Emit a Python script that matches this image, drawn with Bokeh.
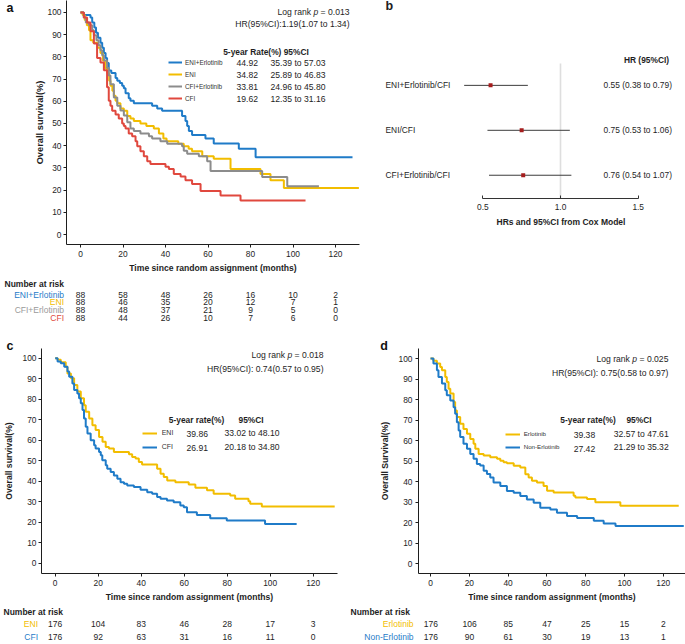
import math
from bokeh.plotting import figure
from bokeh.models import (Range1d, Label, LabelSet, ColumnDataSource, Legend, LegendItem,
                          NumeralTickFormatter, FixedTicker, LinearAxis, Title)
from bokeh.core.properties import value
from bokeh.layouts import column, row
from bokeh.embed import file_html
from bokeh.resources import INLINE

# ---------------- data ----------------
month_ticks = [0, 20, 40, 60, 80, 100, 120]
surv_ticks = [0, 10, 20, 30, 40, 50, 60, 70, 80, 90, 100]

# panel a : four arms
a_groups = ["ENI+Erlotinib", "ENI", "CFI+Erlotinib", "CFI"]
a_eni_erl_t = [0, 1.5, 4.7, 5.5, 6.5, 7.3, 8.2, 9.4, 10.2, 11.0, 11.8, 12.5, 13.3, 14.5, 16.5, 17.3,
               18.5, 19.6, 20.4, 21.2, 22.7, 23.5, 25.1, 33.7, 36.1, 38.4, 47.8, 49.4, 50.2, 51.0,
               52.5, 58.8, 62.7, 74.5, 82.4]
a_eni_erl_s = [100, 98.9, 97.7, 95.5, 93.2, 90.9, 88.6, 86.4, 84.1, 81.8, 79.5, 77.3, 73.9, 72.7,
               70.5, 69.3, 68.2, 67.0, 65.9, 63.6, 61.4, 60.2, 59.1, 58.0, 56.8, 55.7, 53.4, 51.1,
               48.9, 46.6, 44.8, 43.2, 41.0, 38.6, 34.8]
a_eni_erl_end = 128.0
a_eni_t = [0, 1.0, 2.0, 3.0, 4.0, 4.7, 6.0, 8.0, 9.4, 10.5, 11.5, 12.5, 13.5, 14.1, 15.0, 15.7, 16.5,
           17.3, 18.8, 20.4, 22.0, 23.5, 25.1, 28.2, 31.0, 34.5, 36.9, 39.0, 40.5, 46.0, 48.6, 50.9,
           52.5, 57.3, 62.7, 70.6, 84.7, 89.4, 95.7]
a_eni_s = [100, 98.9, 96.6, 94.3, 92.0, 87.5, 86.4, 84.1, 81.8, 78.4, 75.0, 72.7, 69.3, 67.0, 64.8,
           62.5, 60.2, 59.1, 56.8, 55.7, 53.4, 52.3, 51.1, 50.0, 48.9, 47.7, 45.5, 43.2, 42.0, 40.9,
           39.8, 38.6, 37.5, 35.2, 34.1, 29.5, 27.3, 24.4, 21.0]
a_eni_end = 131.0
a_cfi_erl_t = [0, 1.5, 2.5, 4.0, 5.5, 6.3, 7.5, 8.5, 9.4, 10.2, 11.0, 12.5, 13.3, 14.1, 15.7, 17.3,
               18.8, 20.4, 22.0, 23.5, 25.1, 28.2, 32.2, 33.7, 37.6, 40.8, 47.8, 48.6, 50.2, 55.7,
               59.6, 61.2, 85.5, 97.3]
a_cfi_erl_s = [100, 97.7, 95.5, 94.3, 92.0, 89.8, 87.5, 85.2, 83.0, 80.7, 78.4, 75.0, 71.6, 67.7,
               61.7, 58.0, 55.8, 53.6, 50.6, 47.7, 46.6, 45.5, 44.3, 43.2, 42.0, 40.9, 39.8, 37.7,
               36.4, 35.2, 33.0, 28.6, 25.9, 21.7]
a_cfi_erl_end = 112.2
a_cfi_t = [0, 1.6, 3.1, 4.7, 6.3, 7.8, 9.4, 11.0, 12.5, 13.3, 14.1, 14.9, 16.5, 18.0, 19.6, 20.4,
           21.2, 22.7, 24.3, 25.9, 26.7, 28.2, 29.8, 31.4, 32.9, 40.0, 41.6, 43.9, 47.1, 49.4, 52.5,
           56.5, 65.9, 75.3]
a_cfi_s = [100, 97.7, 95.5, 91.5, 86.0, 79.5, 77.5, 74.0, 66.3, 60.2, 58.0, 55.7, 54.0, 52.3, 50.0,
           48.9, 47.7, 45.5, 44.3, 42.0, 39.8, 37.5, 35.2, 33.0, 31.8, 30.5, 29.5, 27.3, 26.1, 24.4,
           22.7, 19.6, 17.6, 15.3]
a_cfi_end = 105.9
a_rate = [44.92, 34.82, 33.81, 19.62]
a_ci_lo = [35.39, 25.89, 24.96, 12.35]
a_ci_hi = [57.03, 46.83, 45.80, 31.16]
a_risk = [[88, 58, 48, 26, 16, 10, 2],
          [88, 46, 35, 20, 12, 7, 1],
          [88, 48, 37, 21, 9, 5, 0],
          [88, 44, 26, 10, 7, 6, 0]]
a_p = "0.013"
a_hr = [1.19, 1.07, 1.34]

# panel b : forest
b_labels = ["ENI+Erlotinib/CFI", "ENI/CFI", "CFI+Erlotinib/CFI"]
b_hr = [0.55, 0.75, 0.76]
b_lo = [0.38, 0.53, 0.54]
b_hi = [0.79, 1.06, 1.07]
b_ticks = [0.5, 1.0, 1.5]
b_null = 1.0

# panel c : ENI vs CFI
c_groups = ["ENI", "CFI"]
c_eni_t = [0, 1.1, 2.6, 4.9, 5.7, 7.3, 8.8, 10.3, 11.9, 13.4, 14.2, 15.8, 17.3, 18.8, 20.4, 22.0,
           23.5, 25.0, 27.3, 34.3, 35.8, 37.4, 38.9, 40.4, 47.4, 49.0, 50.5, 52.1, 55.9, 62.1, 65.2,
           70.6, 73.7, 81.4, 83.7, 89.9, 90.7, 96.1]
c_eni_s = [100, 99.2, 98.0, 95.9, 92.6, 90.2, 86.9, 83.7, 80.4, 77.1, 73.9, 70.6, 67.3, 64.9, 61.6,
           59.2, 56.7, 55.9, 54.2, 53.1, 51.8, 51.0, 49.3, 48.1, 46.1, 43.6, 42.0, 40.3, 39.5, 38.4,
           36.8, 35.5, 33.8, 33.0, 31.4, 30.2, 28.9, 27.6]
c_eni_end = 130.0
c_cfi_t = [0, 1.1, 2.6, 4.2, 5.7, 6.5, 8.0, 8.8, 10.3, 11.1, 11.9, 12.7, 13.4, 14.2, 15.0, 16.5,
           18.1, 18.8, 20.4, 21.2, 21.9, 23.5, 24.2, 25.8, 27.3, 28.9, 30.4, 32.0, 33.5, 36.6, 39.7,
           42.8, 45.1, 47.4, 49.0, 52.0, 55.1, 58.2, 59.8, 61.3, 65.9, 72.1, 79.8, 97.6]
c_cfi_s = [100, 98.4, 97.5, 95.9, 93.5, 91.0, 87.7, 84.5, 82.8, 80.4, 78.0, 74.7, 70.6, 66.5, 63.2,
           60.0, 57.5, 55.9, 54.2, 52.6, 50.2, 47.7, 46.1, 44.4, 42.8, 41.2, 39.5, 38.7, 37.9, 37.1,
           35.8, 34.6, 33.8, 32.2, 31.4, 30.6, 29.7, 28.1, 27.3, 24.8, 23.5, 21.9, 20.8, 19.1]
c_cfi_end = 112.3
c_rate = [39.86, 26.91]
c_ci_lo = [33.02, 20.18]
c_ci_hi = [48.10, 34.80]
c_risk = [[176, 104, 83, 46, 28, 17, 3],
          [176, 92, 63, 31, 16, 11, 0]]
c_p = "0.018"
c_hr = [0.74, 0.57, 0.95]

# panel d : Erlotinib vs Non-Erlotinib
d_groups = ["Erlotinib", "Non-Erlotinib"]
d_erl_t = [0, 1.5, 3.3, 5.0, 5.9, 7.6, 8.4, 9.3, 10.2, 11.9, 12.7, 13.6, 15.3, 17.0, 18.8, 20.5,
           22.2, 23.1, 24.8, 27.4, 30.8, 34.3, 36.0, 37.7, 39.4, 42.9, 46.3, 48.9, 50.6, 52.3, 54.9,
           58.3, 60.1, 63.5, 73.8, 74.7, 80.7, 85.0, 97.9]
d_erl_s = [100, 98.9, 97.6, 95.9, 94.3, 91.0, 88.6, 85.3, 82.9, 78.8, 74.7, 71.5, 68.2, 65.7, 63.3,
           60.8, 58.4, 56.0, 53.5, 52.7, 51.9, 51.1, 50.2, 49.4, 48.9, 47.7, 46.9, 43.6, 42.0, 40.4,
           39.6, 37.9, 35.6, 34.7, 33.1, 32.3, 31.5, 29.9, 28.2]
d_erl_end = 128.0
d_non_t = [0, 1.5, 3.3, 4.1, 5.9, 7.6, 8.4, 10.2, 11.9, 12.7, 13.6, 14.5, 15.3, 17.0, 18.8, 20.5,
           22.2, 23.9, 25.6, 27.4, 29.1, 30.8, 32.5, 36.0, 39.4, 42.9, 46.3, 49.7, 53.2, 56.6, 61.8,
           65.2, 70.4, 75.6, 84.2, 89.3, 95.4]
d_non_s = [100, 97.6, 94.3, 91.0, 87.8, 84.5, 82.1, 79.6, 76.3, 73.1, 69.0, 64.9, 61.7, 58.4, 56.0,
           53.5, 51.1, 48.6, 47.8, 45.3, 43.7, 42.0, 39.6, 37.9, 35.4, 34.6, 33.0, 31.3, 29.7, 27.2,
           26.4, 24.8, 23.2, 22.3, 20.9, 19.6, 18.4]
d_non_end = 130.6
d_rate = [39.38, 27.42]
d_ci_lo = [32.57, 21.29]
d_ci_hi = [47.61, 35.32]
d_risk = [[176, 106, 85, 47, 25, 15, 2],
          [176, 90, 61, 30, 19, 13, 1]]
d_p = "0.025"
d_hr = [0.75, 0.58, 0.97]

# ---------------- styling ----------------
FONT = "Liberation Sans"
INK = "#1e1e1e"
BLUE = "#1f7bc8"
YELLOW = "#f2bd00"
GREY = "#8c8c8c"
GREY_TXT = "#9a9a9a"
RED = "#e0483e"

AW = {' ': .278, '.': .278, '=': .584, 'L': .556, 'o': .556, 'g': .556, 'r': .333, 'a': .556,
      'n': .556, 'k': .5, 'p': .556}


def tw(s, size):
    return sum(AW.get(c, 0.556) for c in s) * size


def make_fig(box, frame, xr, yr, axes=True):
    bx0, by0, bx1, by1 = box
    fx0, fy0, fx1, fy1 = frame
    W = round(bx1) - round(bx0)
    H = round(by1) - round(by0)
    bl = round(fx0 - bx0)
    br = W - round(fx1 - bx0)
    bt = round(fy0 - by0)
    bb = H - round(fy1 - by0)
    kw = {} if axes else dict(x_axis_location=None, y_axis_location=None)
    p = figure(width=W, height=H, x_range=Range1d(*xr), y_range=Range1d(*yr),
               output_backend="svg", toolbar_location=None,
               min_border_left=bl, min_border_right=br, min_border_top=bt, min_border_bottom=bb, **kw)
    p.outline_line_color = None
    p.grid.visible = False
    p.background_fill_color = "white"
    p.border_fill_color = "white"

    def m(rx, ry):
        return (xr[0] + (rx - fx0) / (fx1 - fx0) * (xr[1] - xr[0]),
                yr[1] - (ry - fy0) / (fy1 - fy0) * (yr[1] - yr[0]))
    return p, m


def txt(p, m, rx, ry, text, size, align="left", style="normal", color=INK):
    x, y = m(rx, ry)
    p.add_layout(Label(x=x, y=y, text=text, text_font=FONT, text_font_size=f"{size:.2f}px",
                       text_font_style=style, text_align=align, text_baseline="middle",
                       text_color=color))


def km_axes(p, ylabel, ysize, ystandoff, tick_standoff):
    p.xaxis.ticker = FixedTicker(ticks=month_ticks)
    p.yaxis.ticker = FixedTicker(ticks=surv_ticks)
    for ax in (p.xaxis[0], p.yaxis[0]):
        ax.axis_line_color = INK
        ax.axis_line_width = 1
        ax.major_tick_line_color = INK
        ax.minor_tick_line_color = None
        ax.major_tick_in = 0
        ax.major_tick_out = 3
        ax.major_label_text_font = FONT
        ax.major_label_text_font_size = "8.4px"
        ax.major_label_text_color = INK
        ax.major_label_standoff = 3
    p.yaxis.major_label_standoff = tick_standoff
    p.xaxis.axis_label = "Time since random assignment (months)"
    p.yaxis.axis_label = ylabel
    for ax in (p.xaxis[0], p.yaxis[0]):
        ax.axis_label_text_font = FONT
        ax.axis_label_text_font_style = "bold"
        ax.axis_label_text_color = INK
    p.xaxis.axis_label_text_font_size = "8.6px"
    p.xaxis.axis_label_standoff = 3
    p.yaxis.axis_label_text_font_size = f"{ysize}px"
    p.yaxis.axis_label_standoff = ystandoff


def km_curve(p, t, s, end, color):
    return p.step(x=t + [end], y=s + [s[-1]], mode="after", line_color=color, line_width=2)


def logrank(p, m, right, y_p, y_hr, pval, hr_text, size):
    full = "Log rank p = " + pval
    x0 = right - tw(full, size)
    txt(p, m, x0, y_p, "Log rank", size)
    txt(p, m, x0 + tw("Log rank ", size), y_p, "p", size, style="italic")
    txt(p, m, x0 + tw("Log rank p ", size), y_p, "= " + pval, size)
    txt(p, m, right, y_hr, hr_text, size, align="right")


def add_legend(p, frame, renderers, names, glyph_left, first_y, pitch, lsize, standoff, gw):
    fx0, fy0, fx1, fy1 = frame
    ih = 10
    n = len(names)
    sp = round(pitch - ih)
    top = first_y - ih / 2
    bottom = top + n * ih + (n - 1) * sp
    items = [LegendItem(label=nm, renderers=[r]) for nm, r in zip(names, renderers)]
    leg = Legend(items=items, location=(glyph_left - fx0, fy1 - bottom),
                 orientation="vertical", glyph_width=gw, glyph_height=ih,
                 label_height=ih, label_width=10, spacing=sp, padding=0, margin=0,
                 label_standoff=standoff, border_line_color=None, background_fill_alpha=0,
                 label_text_font=FONT, label_text_font_size=f"{lsize:.1f}px",
                 label_text_color="#333333")
    p.add_layout(leg)


def risk_fig(box, zero_px, px_per_month, title_rx, title_ry, label_rx, row_rys, names, colors,
             counts, size):
    bx0, by0, bx1, by1 = box
    xr = ((bx0 - zero_px) / px_per_month, (bx1 - zero_px) / px_per_month)
    yr = (by1, by0)  # screen-like vertical positions
    p, m = make_fig(box, box, xr, yr, axes=False)
    txt(p, m, title_rx, title_ry, "Number at risk", size, style="bold")
    xs, ys, ts = [], [], []
    for nm, col, cnt, ry in zip(names, colors, counts, row_rys):
        txt(p, m, label_rx, ry, nm, size, align="right", color=col)
        yv = m(0, ry)[1]
        for t, n in zip(month_ticks, cnt):
            xs.append(t)
            ys.append(yv)
            ts.append(str(n))
    src = ColumnDataSource(dict(x=xs, y=ys, t=ts))
    p.add_layout(LabelSet(x="x", y="y", text="t", source=src, text_align="center",
                          text_baseline="middle", text_font=value(FONT),
                          text_font_size=f"{size:.2f}px", text_color=INK))
    return p


def hr_str(h, sep):
    return f"HR(95%CI):{sep}{h[0]:.2f}({h[1]:.2f} to {h[2]:.2f})"


# ---------------- panel a ----------------
A_box = (0, 0, 360, 276)
A_frame = (66, 0, 359, 244.3)
A_zero, A_k = 80.0, 2.125
A_xr = ((66 - A_zero) / A_k, (359 - A_zero) / A_k)
pa, ma = make_fig(A_box, A_frame, A_xr, (-4.5, 105.4))
km_axes(pa, "Overall survival(%)", 9.3, 0, 2)
ra = [km_curve(pa, a_eni_erl_t, a_eni_erl_s, a_eni_erl_end, BLUE),
      km_curve(pa, a_eni_t, a_eni_s, a_eni_end, YELLOW),
      km_curve(pa, a_cfi_erl_t, a_cfi_erl_s, a_cfi_erl_end, GREY),
      km_curve(pa, a_cfi_t, a_cfi_s, a_cfi_end, RED)]
letter_y = 102
letter_axis = LinearAxis(ticker=FixedTicker(ticks=[letter_y]),
                         major_label_overrides={letter_y: "a"},
                         axis_line_color=None, major_tick_line_color=None,
                         minor_tick_line_color=None, major_tick_in=0, major_tick_out=0,
                         major_label_standoff=18, major_label_text_font=FONT,
                         major_label_text_font_size="12.5px", major_label_text_font_style="bold",
                         major_label_text_color="#111111")
pa.add_layout(letter_axis, "left")
logrank(pa, ma, 349, 11.7, 24, a_p, hr_str(a_hr, ""), 8.6)
txt(pa, ma, 222.7, 51.7, "5-year Rate(%) 95%CI", 8.4, style="bold")
a_rows = [62.7, 74.8, 86.7, 98.4]
add_legend(pa, A_frame, ra, a_groups, 168, a_rows[0], 11.9, 6.4, 3, 14)
for ry, rt, lo, hi in zip(a_rows, a_rate, a_ci_lo, a_ci_hi):
    txt(pa, ma, 236, ry, f"{rt:.2f}", 8.6)
    txt(pa, ma, 270, ry, f"{lo:.2f} to {hi:.2f}", 8.6)
pa_r = risk_fig((0, 276, 360, 327), A_zero, A_k, 4, 283, 63.5, [294.3, 301.8, 309.5, 317.3],
                a_groups, [BLUE, YELLOW, GREY_TXT, RED], a_risk, 8.5)

# ---------------- panel b ----------------
B_box = (0, 0, 325, 327)
B_frame = (0, 0, 325, 198.3)
b_px_per = 155.4
b_x0px = 482.3 - 360
bxr = (0.5 + (0 - b_x0px) / b_px_per, 0.5 + (325 - b_x0px) / b_px_per)
byr = (1 - (198.3 - 175) / 45, 3 + 85 / 45)
pb, mb = make_fig(B_box, B_frame, bxr, byr)
b_rows = [len(b_labels) - i for i in range(len(b_labels))]
pb.segment(x0=[b_null], y0=[mb(0, 63)[1]], x1=[b_null], y1=[byr[0]], line_color="#dedede", line_width=1.6)
pb.segment(x0=b_lo, y0=b_rows, x1=b_hi, y1=b_rows, line_color="#3c3c3c", line_width=1)
pb.scatter(x=b_hr, y=b_rows, marker="square", size=4, fill_color="#a51d1d", line_color=None)
ax = pb.xaxis[0]
ax.ticker = FixedTicker(ticks=b_ticks)
ax.formatter = NumeralTickFormatter(format="0.0")
ax.bounds = (b_ticks[0], b_ticks[-1])
ax.axis_line_color = "#333333"
ax.major_tick_line_color = "#333333"
ax.minor_tick_line_color = None
ax.major_tick_in = 3
ax.major_tick_out = 0
ax.major_label_standoff = 5
ax.major_label_text_font = FONT
ax.major_label_text_font_size = "8.4px"
ax.major_label_text_color = INK
pb.yaxis.visible = False
pb.add_layout(Title(text="HRs and 95%CI from Cox Model", align="left", offset=136, standoff=4,
                    text_font=FONT, text_font_size="8.5px", text_font_style="bold",
                    text_color=INK), "below")
txt(pb, mb, 25, 6, "b", 12.5, style="bold")
txt(pb, mb, 286, 60, "HR (95%CI)", 8.4, align="center", style="bold")
lab_x = mb(25, 0)[0]
val_x = mb(243, 0)[0]
for lbl, yrw, h, lo, hi in zip(b_labels, b_rows, b_hr, b_lo, b_hi):
    pb.add_layout(Label(x=lab_x, y=yrw, text=lbl, text_font=FONT, text_font_size="8.4px",
                        text_baseline="middle", text_color=INK))
    pb.add_layout(Label(x=val_x, y=yrw, text=f"{h:.2f} ({lo:.2f} to {hi:.2f})", text_font=FONT,
                        text_font_size="8.4px", text_baseline="middle", text_color=INK))

# ---------------- panel c ----------------
C_box = (0, 327, 340, 604)
C_frame = (41, 348.3, 337, 572.7)
C_zero, C_k = 54.7, 2.15
C_xr = ((41 - C_zero) / C_k, (337 - C_zero) / C_k)
pc, mc = make_fig(C_box, C_frame, C_xr, (-5.1, 104.75))
km_axes(pc, "Overall survival(%)", 8.6, 6, 2)
rc = [km_curve(pc, c_eni_t, c_eni_s, c_eni_end, YELLOW),
      km_curve(pc, c_cfi_t, c_cfi_s, c_cfi_end, BLUE)]
pc.add_layout(Title(text="c", align="left", offset=6 - 41, standoff=-8, text_font=FONT,
                    text_font_size="12.5px", text_font_style="bold", text_color="#111111"), "above")
logrank(pc, mc, 323, 355, 368.3, c_p, hr_str(c_hr, " "), 8.6)
txt(pc, mc, 168.3, 420, "5-year rate(%)", 8.4, style="bold")
txt(pc, mc, 238, 420, "95%CI", 8.4, style="bold")
c_rows = [432.6, 446.2]
add_legend(pc, C_frame, rc, c_groups, 141.7, c_rows[0], 13.6, 7.0, 5, 15)
for ry, rt, lo, hi in zip(c_rows, c_rate, c_ci_lo, c_ci_hi):
    txt(pc, mc, 186, ry + 1, f"{rt:.2f}", 8.6)
    txt(pc, mc, 224, ry, f"{lo:.2f} to {hi:.2f}", 8.6)
pc_r = risk_fig((0, 604, 340, 644), C_zero, C_k, 3, 611, 37.5, [623, 636.5], c_groups,
                [YELLOW, BLUE], c_risk, 8.5)

# ---------------- panel d ----------------
D_box = (340, 327, 685, 604)
D_frame = (418.3, 348.3, 685, 572.7)
D_zero, D_k = 430.3, 1.937
D_xr = ((418.3 - D_zero) / D_k, (685 - D_zero) / D_k)
pd_, md = make_fig(D_box, D_frame, D_xr, (-4.8, 104.9))
km_axes(pd_, "Overall Survival(%)", 8.6, 6, 3)
rd = [km_curve(pd_, d_erl_t, d_erl_s, d_erl_end, YELLOW),
      km_curve(pd_, d_non_t, d_non_s, d_non_end, BLUE)]
pd_.add_layout(Title(text="d", align="left", offset=380 - 418.3, standoff=-8, text_font=FONT,
                     text_font_size="12.5px", text_font_style="bold", text_color="#111111"), "above")
logrank(pd_, md, 668, 358.3, 372.7, d_p, hr_str(d_hr, " "), 8.6)
txt(pd_, md, 560, 420, "5-year rate(%)", 8.4, style="bold")
txt(pd_, md, 626, 420, "95%CI", 8.4, style="bold")
d_rows = [433.3, 446.7]
add_legend(pd_, D_frame, rd, d_groups, 505, d_rows[0], 13.4, 6.2, 4, 15)
for ry, rt, lo, hi in zip(d_rows, d_rate, d_ci_lo, d_ci_hi):
    txt(pd_, md, 573.3, ry + 1.5, f"{rt:.2f}", 8.6)
    txt(pd_, md, 613.3, ry, f"{lo:.2f} to {hi:.2f}", 8.6)
pd_r = risk_fig((340, 604, 685, 644), D_zero, D_k, 350, 611, 413, [623, 636.5], d_groups,
                [YELLOW, BLUE], d_risk, 8.5)

colA = column(row(pa), row(pa_r))
colB = column(row(pb))
colC = column(row(pc), row(pc_r))
colD = column(row(pd_), row(pd_r))
layout = column(row(colA, colB), row(colC, colD))
open("out.html", "w").write(file_html(layout, INLINE))
